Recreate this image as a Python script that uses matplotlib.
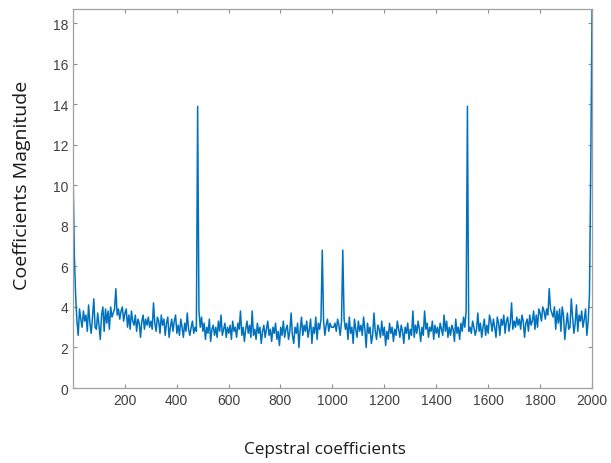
import numpy as np
import matplotlib
matplotlib.use("Agg")
import matplotlib.pyplot as plt

# cepstral magnitude, every 5 samples (first half, x = 1..996)
x_left = np.arange(1, 1000, 5)
vals_left = [
    10.8, 6.6, 4.6, 3.3, 2.6, 3.9, 3.4, 3.0, 3.8, 3.3,
    3.6, 2.8, 4.1, 3.2, 2.7, 3.5, 4.4, 3.0, 2.9, 3.7,
    3.1, 2.4, 3.6, 4.0, 2.8, 3.9, 3.2, 3.8, 2.9, 4.0,
    3.5, 3.7, 3.9, 4.9, 3.6, 3.9, 3.4, 3.8, 4.0, 3.3,
    3.7, 3.9, 3.0, 3.6, 2.9, 3.8, 3.3, 3.1, 3.6, 2.8,
    3.4, 3.2, 2.5, 3.3, 3.6, 2.9, 3.4, 3.1, 3.5, 3.0,
    3.3, 2.9, 4.2, 3.2, 2.8, 3.5, 3.3, 2.7, 3.6, 3.1,
    3.4, 2.6, 3.2, 3.5, 2.5, 3.0, 3.4, 2.8, 3.3, 3.6,
    2.7, 3.1, 2.6, 3.4, 3.0, 2.5, 3.2, 2.8, 3.7, 2.9,
    2.6, 3.0, 3.3, 2.7, 3.0, 2.8, 13.9, 3.8, 3.0, 3.5,
    2.8, 3.2, 2.4, 3.0, 2.7, 3.4, 2.3, 2.9, 3.1, 2.6,
    3.0, 2.5, 3.3, 2.8, 3.6, 2.6, 2.9, 3.2, 2.5, 3.0,
    2.7, 3.1, 2.4, 3.3, 2.8, 3.0, 2.5, 3.2, 2.9, 3.8,
    2.6, 3.0, 2.3, 2.9, 3.3, 2.7, 3.1, 2.5, 3.8, 2.6,
    2.9, 2.4, 3.2, 2.7, 3.0, 2.2, 2.8, 3.1, 2.5, 2.9,
    3.3, 2.6, 2.9, 2.3, 3.0, 2.7, 3.2, 2.4, 2.8, 2.1,
    3.0, 2.6, 3.3, 2.5, 2.9, 3.1, 2.4, 2.8, 3.7, 2.6,
    2.2, 3.0, 2.7, 3.2, 2.0, 2.9, 3.5, 2.6, 3.1, 2.8,
    3.3, 2.5, 2.9, 3.4, 2.2, 3.0, 2.7, 3.5, 2.4, 3.2,
    2.9, 3.4, 6.8, 3.3, 2.6, 3.1, 3.4, 2.8, 3.2, 3.0,
]
# the cepstrum is symmetric; the last two samples climb off the top of the axes
end_values = [10.9, 18.7]

x = np.concatenate([x_left, 2001 - x_left[::-1]])
y = np.array(vals_left + vals_left[::-1])
y[-2:] = end_values

x_ticks = [200, 400, 600, 800, 1000, 1200, 1400, 1600, 1800, 2000]
y_ticks = [0, 2, 4, 6, 8, 10, 12, 14, 16, 18]

plt.rcParams['font.family'] = ['Liberation Sans', 'DejaVu Sans']

fig = plt.figure(figsize=(6.11, 4.64), dpi=100)
ax = fig.add_axes([0.1195, 0.1616, 0.8495, 0.8168])

ax.plot(x, y, color='#0072BD', linewidth=1.1)

ax.set_xlim(1, 2000)
ax.set_ylim(0, 18.7)
ax.set_xticks(x_ticks)
ax.set_yticks(y_ticks)
ax.tick_params(direction='in', top=True, right=True, length=3,
               labelsize=10, colors='#909090', labelcolor='#404040')
for s in ax.spines.values():
    s.set_color('#a0a0a0')
    s.set_linewidth(0.9)

fig.text(0.532, 0.03, 'Cepstral coefficients', ha='center', va='center',
         fontsize=12.3, family=['Open Sans', 'DejaVu Sans'], color='#1a1a1a')
fig.text(0.036, 0.60, 'Coefficients Magnitude', ha='center', va='center',
         rotation=90, fontsize=14, family=['Open Sans', 'DejaVu Sans'],
         color='#1a1a1a')

fig.savefig('out.png', dpi=100)
